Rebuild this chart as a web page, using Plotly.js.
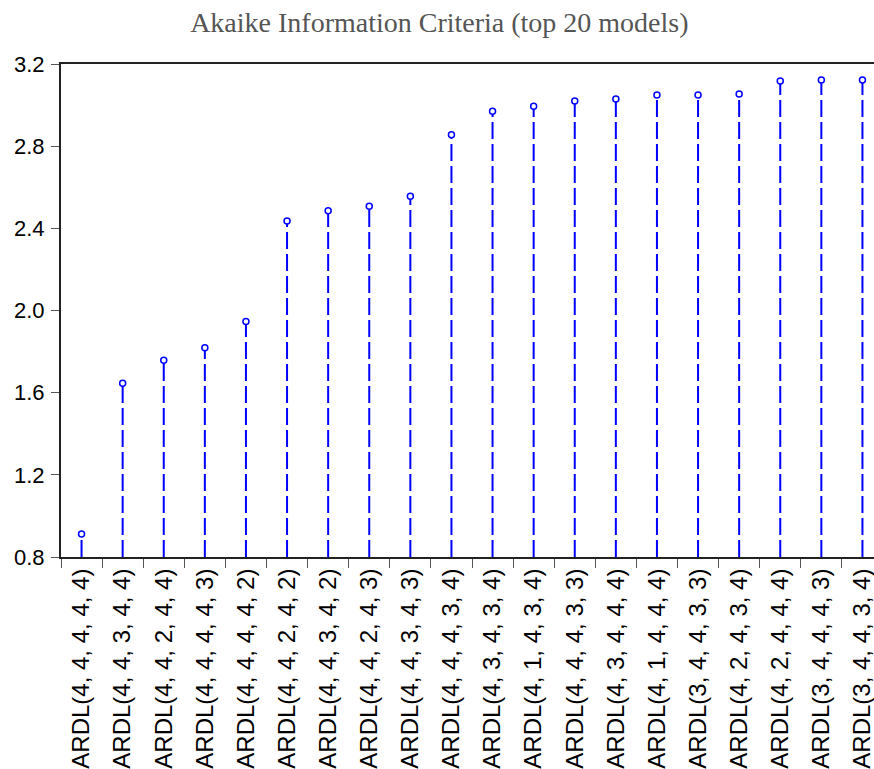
<!DOCTYPE html>
<html>
<head>
<meta charset="utf-8">
<script src="https://cdn.plot.ly/plotly-3.0.1.min.js"></script>
<style>
html, body { margin: 0; padding: 0; overflow: hidden; background: #fff; }
#chart { width: 884px; height: 769px; }
</style>
</head>
<body>
<div id="chart"></div>
<script>
const models = [
  "ARDL(4, 4, 4, 4, 4)", "ARDL(4, 4, 3, 4, 4)", "ARDL(4, 4, 2, 4, 4)", "ARDL(4, 4, 4, 4, 3)",
  "ARDL(4, 4, 4, 4, 2)", "ARDL(4, 4, 2, 4, 2)", "ARDL(4, 4, 3, 4, 2)", "ARDL(4, 4, 2, 4, 3)",
  "ARDL(4, 4, 3, 4, 3)", "ARDL(4, 4, 4, 3, 4)", "ARDL(4, 3, 4, 3, 4)", "ARDL(4, 1, 4, 3, 4)",
  "ARDL(4, 4, 4, 3, 3)", "ARDL(4, 3, 4, 4, 4)", "ARDL(4, 1, 4, 4, 4)", "ARDL(3, 4, 4, 3, 3)",
  "ARDL(4, 2, 4, 3, 4)", "ARDL(4, 2, 4, 4, 4)", "ARDL(3, 4, 4, 4, 3)", "ARDL(3, 4, 4, 3, 4)"
];
const aicValues = [
  0.912, 1.646, 1.758, 1.819, 1.946, 2.436, 2.486, 2.507, 2.556, 2.856,
  2.970, 2.994, 3.020, 3.030, 3.049, 3.049, 3.054, 3.117, 3.122, 3.122
];
const baseValue = 0.8;
const yTickVals = [0.8, 1.2, 1.6, 2.0, 2.4, 2.8, 3.2];
const titleText = "Akaike Information Criteria (top 20 models)";

// stems built from the data: bottom -> value, separated by gaps
const stemX = [], stemY = [];
models.forEach((m, i) => {
  stemX.push(m, m, null);
  stemY.push(baseValue, aicValues[i], null);
});

const traces = [
  {
    type: "scatter", mode: "lines", x: stemX, y: stemY,
    line: { color: "#0000ff", width: 2, dash: "17px,5px" },
    hoverinfo: "skip", showlegend: false, connectgaps: false
  },
  {
    type: "scatter", mode: "markers", x: models, y: aicValues,
    marker: { symbol: "circle", size: 6, color: "#ffffff", line: { color: "#0000ff", width: 1.5 } },
    showlegend: false
  }
];

const layout = {
  width: 884, height: 769,
  margin: { l: 61, r: 1, t: 64, b: 212, pad: 0 },
  paper_bgcolor: "#ffffff", plot_bgcolor: "#ffffff",
  font: { family: "Liberation Sans, Arial, sans-serif", color: "#000000", size: 20 },
  title: {
    text: titleText,
    font: { family: "Liberation Serif, serif", size: 28, color: "#555555" },
    xref: "container", x: 0.497, xanchor: "center",
    yref: "container", y: 1 - 22 / 769, yanchor: "middle"
  },
  xaxis: {
    type: "category",
    tickangle: -90,
    ticks: "outside", ticklen: 9, tickcolor: "#555555", tickwidth: 1,
    tickson: "boundaries",
    showline: true, linecolor: "#222222", linewidth: 2, mirror: true,
    showgrid: false, zeroline: false,
    tickfont: { size: 24, family: "Liberation Sans, Arial, sans-serif" },
    range: [-0.5, models.length - 0.5]
  },
  yaxis: {
    range: [0.8, 3.2],
    tickvals: yTickVals,
    ticktext: yTickVals.map(v => v.toFixed(1)),
    ticks: "outside", ticklen: 8, tickcolor: "#555555", tickwidth: 1,
    showline: true, linecolor: "#222222", linewidth: 2, mirror: true,
    showgrid: false, zeroline: false,
    tickfont: { size: 22, family: "Liberation Sans, Arial, sans-serif" },
    ticklabelstandoff: 2
  },
  showlegend: false
};

Plotly.newPlot("chart", traces, layout, { displayModeBar: false, staticPlot: true });
</script>
</body>
</html>
